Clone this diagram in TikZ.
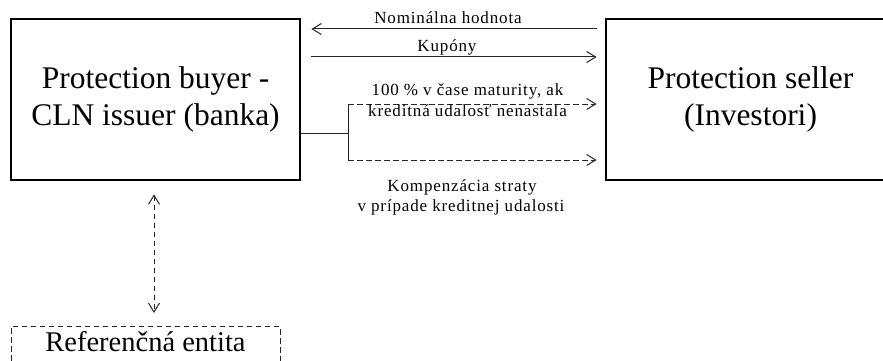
\documentclass[tikz,border=0pt]{standalone}
\usepackage{fontspec}
\setmainfont{Liberation Serif}
\newfontfamily\lblfont[LetterSpace=5]{Liberation Serif}
\usetikzlibrary{arrows.meta}
\tikzset{
  party/.style={draw=black, line width=2.8pt, minimum width=289pt, minimum height=161pt,
    align=center, inner sep=0pt, font=\fontsize{31.5pt}{37pt}\selectfont},
  lbl/.style={anchor=base, inner sep=0pt, font=\lblfont\fontsize{17pt}{20pt}\selectfont},
  flow/.style={draw=black!85, line width=1pt,
    -{Straight Barb[length=9pt,width=11pt,line width=1pt]}},
  dflow/.style={flow, dash pattern=on 5.5pt off 3.5pt},
  refbox/.style={draw=black!85, line width=1pt, dash pattern=on 5.5pt off 3.5pt,
    minimum width=269pt, inner ysep=5pt, text depth=15pt,
    font=\fontsize{28.5pt}{34pt}\selectfont},
}
\begin{document}
\begin{tikzpicture}[x=1pt, y=-1pt]
\useasboundingbox (0,0) rectangle (883,361);
\begin{scope}
\clip (0,0) rectangle (883,361);

% the two parties of the note
\node[party] (buyer)  at (155.5,99.5) {Protection buyer -\\CLN issuer (banka)};
\node[party] (seller) at (750.5,99.5) {Protection seller\\(Investori)};

% reference entity below the issuer
\node[refbox, anchor=north] (ref) at (145.5,326) {Referenčná entita};

% principal and coupons
\draw[flow, shorten <=8pt, shorten >=10pt] (seller.west |- 0,29) -- (buyer.east |- 0,29);
\node[lbl] (nomlbl) at (448,24) {Nominálna hodnota};
\draw[flow, shorten <=10pt, shorten >=8pt] (buyer.east |- 0,57) -- (seller.west |- 0,57);
\node[lbl] (kuplbl) at (447,52) {Kupóny};

% conditional redemption branch
\coordinate (split) at (348,133);
\coordinate (upper) at (348,104);
\coordinate (lower) at (348,160);
\draw[draw=black!85, line width=1pt] (buyer.east |- split) -- (split);
\draw[draw=black!85, line width=1pt] (upper) -- (lower);
\draw[dflow, shorten >=8pt] (upper) -- (seller.west |- upper);
\draw[dflow, shorten >=8pt] (lower) -- (seller.west |- lower);
\node[lbl] (mat1) at (467.5,95) {100 \% v čase maturity, ak};
\node[lbl] (mat2) at (467.5,116) {kreditná udalosť nenastala};
\node[lbl] (komp1) at (462,191) {Kompenzácia straty};
\node[lbl] (komp2) at (461,211) {v prípade kreditnej udalosti};

% link between issuer and reference entity
\draw[dflow, {Straight Barb[length=9pt,width=11pt,line width=1pt]}-{Straight Barb[length=9pt,width=11pt,line width=1pt]},
  shorten <=13pt, shorten >=13pt] (buyer.south -| 154,0) -- (ref.north -| 154,0);
\end{scope}
\end{tikzpicture}
\end{document}
